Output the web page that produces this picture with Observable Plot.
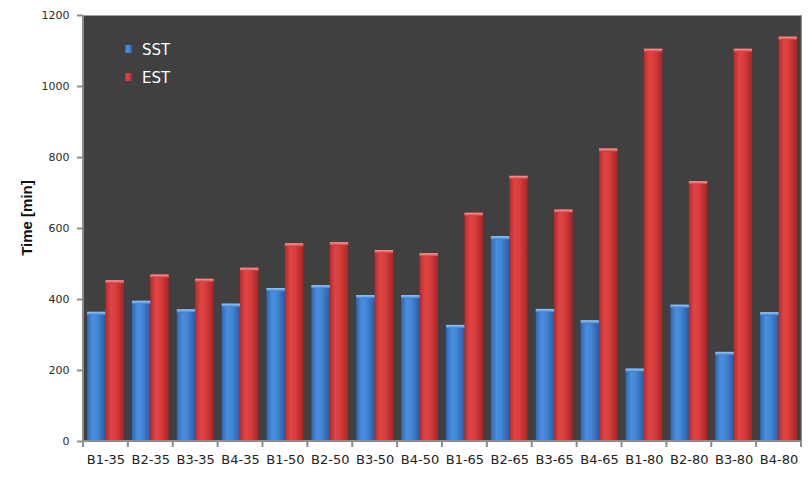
<!DOCTYPE html>
<html>
<head>
<meta charset="utf-8">
<script src="https://cdn.jsdelivr.net/npm/d3@7"></script>
<script src="https://cdn.jsdelivr.net/npm/@observablehq/plot@0.6"></script>
<style>
  html, body { margin: 0; padding: 0; background: #ffffff; }
  #chart svg { display: block; }
</style>
</head>
<body>
<div id="chart"></div>
<script>
const categories = ["B1-35","B2-35","B3-35","B4-35","B1-50","B2-50","B3-50","B4-50","B1-65","B2-65","B3-65","B4-65","B1-80","B2-80","B3-80","B4-80"];
const seriesNames = ["SST", "EST"];
const sstValues = [364, 395, 371, 387, 431, 439, 411, 411, 327, 577, 372, 340, 204, 384, 251, 363];
const estValues = [453, 469, 457, 488, 557, 560, 538, 529, 643, 747, 652, 824, 1105, 732, 1105, 1139];
const yTicks = [0, 200, 400, 600, 800, 1000, 1200];

const sstData = categories.map((c, i) => ({cat: c, v: sstValues[i]}));
const estData = categories.map((c, i) => ({cat: c, v: estValues[i]}));

const W = 811, H = 478;
const mL = 83, mR = 10, mT = 15, mB = 37;
const step = (W - mL - mR) / categories.length;
const outer = step * 0.09;   // gap at each side of a group
const half = step / 2;

const capUnits = 9; // bevel height in data units

const chart = Plot.plot({
  width: W,
  height: H,
  marginLeft: mL,
  marginRight: mR,
  marginTop: mT,
  marginBottom: mB,
  style: {background: "#ffffff", fontFamily: "DejaVu Sans, Verdana, sans-serif"},
  x: {domain: categories, padding: 0, round: false, label: null},
  y: {domain: [0, 1200], label: null},
  marks: [
    Plot.frame({fill: "#404040", stroke: null}),
    Plot.barY(sstData, {x: "cat", y: "v", fill: "url(#gBlue)", insetLeft: outer, insetRight: half}),
    Plot.barY(estData, {x: "cat", y: "v", fill: "url(#gRed)", insetLeft: half, insetRight: outer}),
    Plot.rectY(sstData, {x: "cat", y1: d => d.v - capUnits, y2: "v", fill: "url(#gBlueCap)", insetLeft: outer, insetRight: half}),
    Plot.rectY(estData, {x: "cat", y1: d => d.v - capUnits, y2: "v", fill: "url(#gRedCap)", insetLeft: half, insetRight: outer}),
    Plot.axisY({ticks: yTicks, tickFormat: d => String(d), tickSize: 6, tickPadding: 8, fontSize: 11, color: "#2a2a2a", stroke: "#8c8c8c", strokeWidth: 2, label: null, fontFamily: "DejaVu Sans, Verdana, sans-serif"}),
    Plot.axisX({tickSize: 0, tickPadding: 13, fontSize: 13, color: "#222", label: null, fontFamily: "DejaVu Sans, Verdana, sans-serif"})
  ]
});

const svg = d3.select(chart);
const defs = svg.insert("defs", ":first-child");
function grad(id, stops, vertical) {
  const g = defs.append("linearGradient").attr("id", id)
    .attr("x1", 0).attr("y1", 0).attr("x2", vertical ? 0 : 1).attr("y2", vertical ? 1 : 0);
  stops.forEach(([o, c]) => g.append("stop").attr("offset", o).attr("stop-color", c));
}
grad("gBlue", [[0, "#2f66b4"], [0.3, "#4a8edc"], [0.55, "#4387d6"], [1, "#2a5ca6"]]);
grad("gRed", [[0, "#b82a2a"], [0.3, "#e04545"], [0.55, "#d93e3e"], [1, "#a82424"]]);
grad("gBlueCap", [[0, "#9cc8f4"], [0.5, "#6aaaf0"], [1, "#3f7cc8"]], true);
grad("gRedCap", [[0, "#f5a0a0"], [0.5, "#ee6a6a"], [1, "#c83a3a"]], true);

const xs = chart.scale("x");
const ys = chart.scale("y");
const y0 = ys.apply(0), yTop = ys.apply(1200);
const xLeft = xs.apply(categories[0]);
const xRight = xs.apply(categories[categories.length - 1]) + xs.bandwidth;

// axis lines
svg.append("line").attr("x1", xLeft).attr("x2", xLeft).attr("y1", yTop).attr("y2", y0 + 1)
  .attr("stroke", "#8c8c8c").attr("stroke-width", 2);
svg.append("line").attr("x1", xLeft - 1).attr("x2", xRight).attr("y1", y0).attr("y2", y0)
  .attr("stroke", "#8c8c8c").attr("stroke-width", 2);
svg.append("line").attr("x1", xRight).attr("x2", xRight).attr("y1", yTop).attr("y2", y0)
  .attr("stroke", "#6a6a6a").attr("stroke-width", 1);
// category boundary ticks
categories.concat([null]).forEach((c) => {
  const x = c === null ? xRight : xs.apply(c);
  svg.append("line").attr("x1", x).attr("x2", x).attr("y1", y0).attr("y2", y0 + 6)
    .attr("stroke", "#8c8c8c").attr("stroke-width", 2);
});

// y-axis title
svg.append("text")
  .attr("transform", `translate(${32},${(y0 + yTop) / 2 - 10}) rotate(-90)`)
  .attr("text-anchor", "middle")
  .attr("font-family", "Liberation Sans, Arial, sans-serif")
  .attr("font-weight", "bold")
  .attr("font-size", 15)
  .attr("fill", "#111")
  .text("Time [min]");

// legend
const legendColors = ["url(#gBlue)", "url(#gRed)"];
seriesNames.forEach((name, i) => {
  const cy = yTop + 34 + i * 28;
  svg.append("rect").attr("x", xLeft + 42).attr("y", cy - 4).attr("width", 7).attr("height", 8)
    .attr("fill", legendColors[i]);
  svg.append("text").attr("x", xLeft + 59).attr("y", cy + 6)
    .attr("text-anchor", "start")
    .attr("font-family", "DejaVu Sans, Verdana, sans-serif")
    .attr("font-size", 15).attr("fill", "#ffffff").text(name);
});

document.getElementById("chart").appendChild(chart);
</script>
</body>
</html>
